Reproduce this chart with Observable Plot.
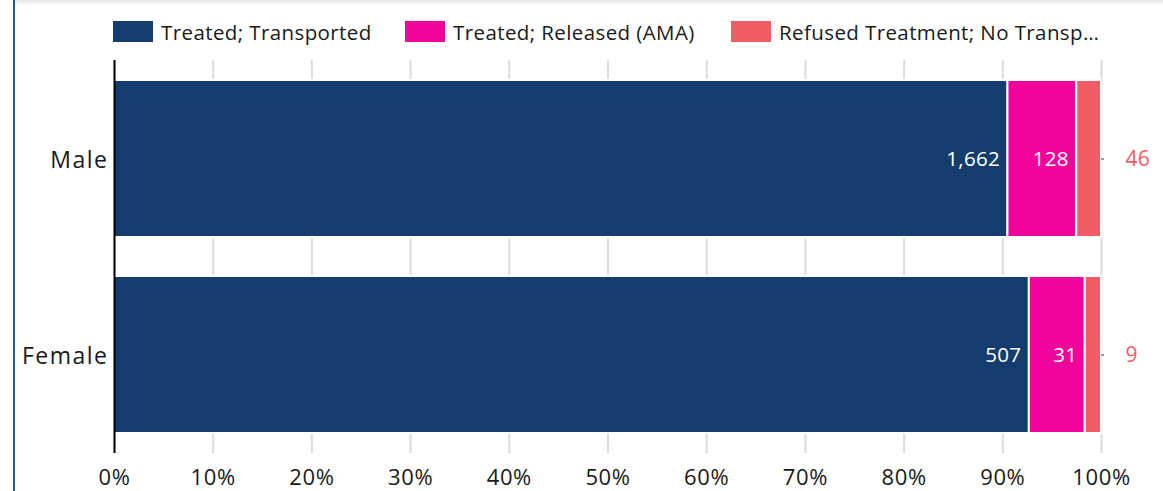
<!DOCTYPE html>
<html>
<head>
<meta charset="utf-8">
<script src="https://cdn.jsdelivr.net/npm/d3@7"></script>
<script src="https://cdn.jsdelivr.net/npm/@observablehq/plot@0.6"></script>
<style>
  html, body { margin: 0; padding: 0; background: #fff; }
  body { width: 1163px; height: 491px; overflow: hidden; position: relative; font-family: "Open Sans", sans-serif; }
  #frame { position: absolute; left: 13px; top: 0; width: 2px; height: 491px; background: #2a5a9a; z-index: 2; }
  #shadow { position: absolute; left: 15px; top: 0; right: 0; height: 6px; background: linear-gradient(#e6e6e6, #fff); }
  #legend { position: relative; height: 60px; }
  .item { position: absolute; top: 21px; height: 21px; display: flex; align-items: center; font-size: 20.5px; letter-spacing: 0.4px; color: #1a1a1a; white-space: nowrap; }
  .sw { width: 40px; height: 21px; margin-right: 8px; flex: none; }
  #chart { position: absolute; top: 60px; left: 0; }
  g[aria-label="y-axis tick label"] text { letter-spacing: 1.5px; }
  g[aria-label="x-axis tick label"] text { letter-spacing: 0.6px; }
  g[aria-label="text"] text { letter-spacing: 0.3px; }
</style>
</head>
<body>
<div id="frame"></div>
<div id="shadow"></div>
<div id="legend"></div>
<div id="chart"></div>
<script>
const genders = ["Male", "Female"];
const statuses = ["Treated; Transported", "Treated; Released (AMA)", "Refused Treatment; No Transport"];
const legendLabels = ["Treated; Transported", "Treated; Released (AMA)", "Refused Treatment; No Transp…"];
const colors = ["#143d6d", "#f0059b", "#f25c64"];
const maleValues = [1662, 128, 46];
const femaleValues = [507, 31, 9];
const xTicks = [0, 0.1, 0.2, 0.3, 0.4, 0.5, 0.6, 0.7, 0.8, 0.9, 1];

const data = [];
[maleValues, femaleValues].forEach((vals, gi) => {
  vals.forEach((v, si) => data.push({gender: genders[gi], status: statuses[si], value: v}));
});

const legendX = [113, 405, 731];
const legend = document.getElementById("legend");
legendLabels.forEach((l, i) => {
  const d = document.createElement("div");
  d.className = "item";
  d.style.left = legendX[i] + "px";
  d.innerHTML = `<div class="sw" style="background:${colors[i]}"></div><span>${l}</span>`;
  legend.appendChild(d);
});

const fmt = d3.format(",");
const third = statuses[2];
const thirdData = data.filter(d => d.status === third);

const chart = Plot.plot({
  width: 1163,
  height: 431,
  marginLeft: 114,
  marginRight: 62,
  marginTop: 0,
  marginBottom: 38,
  style: {fontFamily: "Open Sans, sans-serif", fontSize: "20px", color: "#1a1a1a", background: "transparent"},
  x: {type: "linear", domain: [0, 1], label: null},
  y: {domain: genders, paddingInner: 0.2, paddingOuter: 0.1, label: null},
  color: {domain: statuses, range: colors},
  marks: [
    Plot.gridX(xTicks, {stroke: "#dcdcdc", strokeOpacity: 1, strokeWidth: 2}),
    Plot.axisX(xTicks, {tickFormat: d3.format(".0%"), tickSize: 0, tickPadding: 16, fontSize: 22, label: null}),
    Plot.axisY({tickSize: 0, tickPadding: 6, fontSize: 23, dy: 2, label: null}),
    Plot.barX(data, Plot.stackX({x: "value", y: "gender", fill: "status", offset: "normalize", stroke: "white", strokeWidth: 2})),
    Plot.textX(data, Plot.stackX2({x: "value", y: "gender", offset: "normalize",
      text: d => d.status === third ? "" : fmt(d.value), fill: "white", textAnchor: "end", dx: -8, fontSize: 20.5})),
    Plot.ruleY(thirdData, {x1: () => 1, x2: () => 1.003, y: "gender", stroke: "#999", strokeWidth: 2}),
    Plot.text(thirdData, {x: () => 1, y: "gender", text: d => fmt(d.value), fill: "#f25c64", textAnchor: "start", dx: 24, fontSize: 21}),
    Plot.ruleX([0], {stroke: "black", strokeWidth: 2})
  ]
});
document.getElementById("chart").appendChild(chart);
</script>
</body>
</html>
